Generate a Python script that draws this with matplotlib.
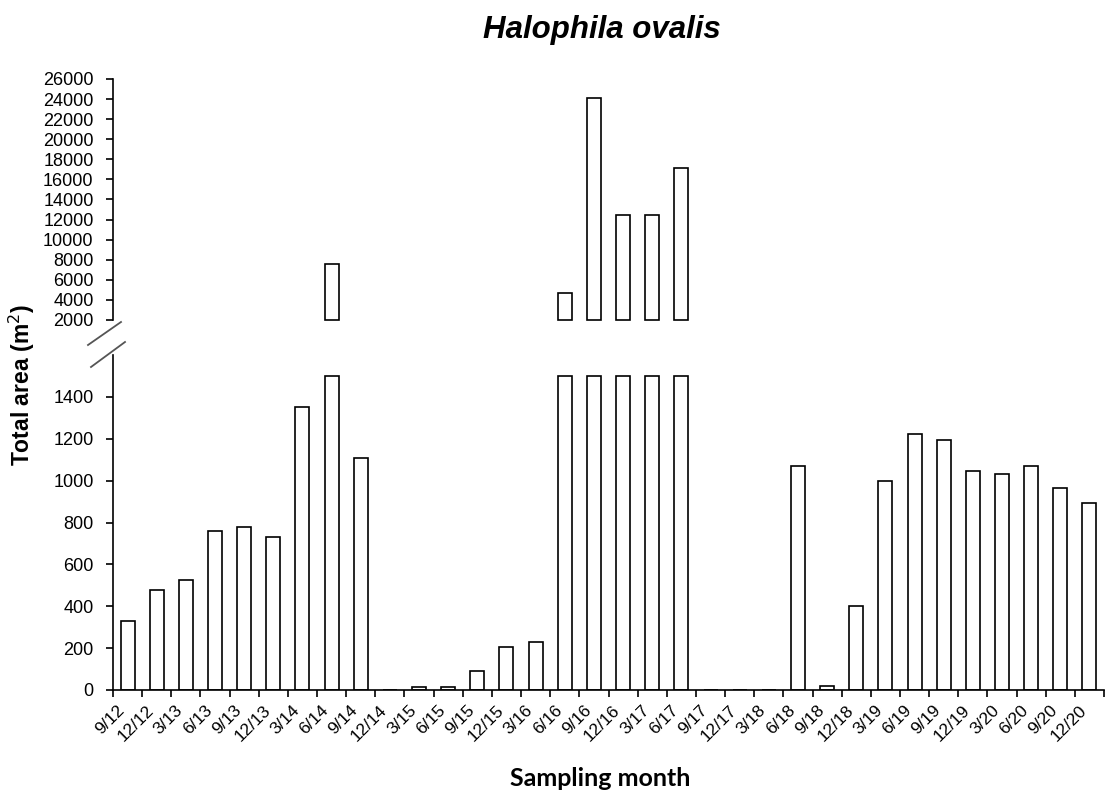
import numpy as np
import matplotlib
matplotlib.use("Agg")
import matplotlib.pyplot as plt
from matplotlib.lines import Line2D

plt.rcParams['font.family'] = ['Liberation Sans', 'DejaVu Sans']

months = ["9/12", "12/12", "3/13", "6/13", "9/13", "12/13", "3/14", "6/14", "9/14", "12/14",
          "3/15", "6/15", "9/15", "12/15", "3/16", "6/16", "9/16", "12/16", "3/17", "6/17",
          "9/17", "12/17", "3/18", "6/18", "9/18", "12/18", "3/19", "6/19", "9/19", "12/19",
          "3/20", "6/20", "9/20", "12/20"]
area = [330, 480, 525, 760, 780, 730, 1350, 7600, 1110, 0,
        12, 12, 90, 205, 230, 4650, 24100, 12500, 12500, 17100,
        0, 0, 0, 1070, 18, 400, 1000, 1225, 1195, 1045,
        1030, 1070, 965, 895]

low_cap = 1500      # bars above the break are cut here on the lower panel
break_low = 2000    # upper panel starts here

W, H = 1113, 794
fig = plt.figure(figsize=(W / 100, H / 100), dpi=100)

left = 113 / W
width = (1104 - 113) / W
ax_lo = fig.add_axes([left, (H - 690) / H, width, (690 - 355) / H])
ax_hi = fig.add_axes([left, (H - 320) / H, width, (320 - 79) / H])

x = np.arange(len(months)) + 0.5
vals = np.array(area, dtype=float)
bar_kw = dict(width=0.48, color="white", edgecolor="black", linewidth=1.2)

# lower panel
ax_lo.bar(x, np.minimum(vals, low_cap), **bar_kw)
ax_lo.set_xlim(0, len(months))
ax_lo.set_ylim(0, 1600)
ax_lo.set_yticks(np.arange(0, 1401, 200))
ax_lo.set_xticks(np.arange(0, len(months) + 1), minor=False)
ax_lo.set_xticklabels([])
ax_lo.set_xticks(x, minor=True)
ax_lo.set_xticklabels(months, minor=True, rotation=45, ha="right", fontsize=12.5)
ax_lo.tick_params(axis="x", which="minor", length=0, pad=9)
ax_lo.tick_params(axis="x", which="major", length=5, width=1.2, direction="out")
ax_lo.tick_params(axis="y", length=5, width=1.2, direction="out", pad=9, labelsize=13)
for s in ["top", "right"]:
    ax_lo.spines[s].set_visible(False)
for s in ["left", "bottom"]:
    ax_lo.spines[s].set_linewidth(1.2)

# upper panel
big = vals > break_low
ax_hi.bar(x[big], vals[big] - break_low, bottom=break_low, clip_on=False, **bar_kw)
ax_hi.set_xlim(0, len(months))
ax_hi.set_ylim(break_low, 26000)
ax_hi.set_yticks(np.arange(2000, 26001, 2000))
ax_hi.set_xticks([])
ax_hi.tick_params(axis="y", length=5, width=1.2, direction="out", pad=9, labelsize=13)
for s in ["top", "right", "bottom"]:
    ax_hi.spines[s].set_visible(False)
ax_hi.spines["left"].set_linewidth(1.2)

# break marks
for (x0, y0, x1, y1) in [(88, 345, 121, 322), (91, 367, 125, 342)]:
    fig.add_artist(Line2D([x0 / W, x1 / W], [1 - y0 / H, 1 - y1 / H],
                          color="#555555", linewidth=1.3))

fig.text(602 / W, 1 - 30 / H, "Halophila ovalis", fontsize=22.5, fontweight="bold",
         fontstyle="italic", ha="center", va="center")
fig.text(22 / W, 1 - 385 / H, "Total area (m$^{2}$)", fontsize=16.5, fontweight="bold",
         rotation=90, ha="center", va="center")
fig.text(600 / W, 1 - 778 / H, "Sampling month", fontsize=18, fontweight="bold",
         family=["Lato", "DejaVu Sans"], ha="center", va="center")

fig.savefig("out.png", dpi=100)
